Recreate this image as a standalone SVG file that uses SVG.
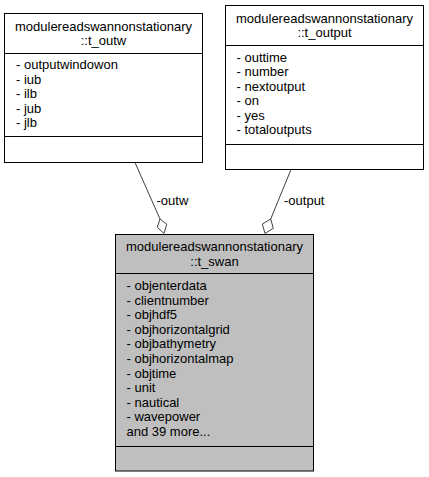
<svg xmlns="http://www.w3.org/2000/svg" width="429" height="477" viewBox="0 0 429 477">
  <style>
    text { font-family: "Liberation Sans", Arial, sans-serif; font-size: 13px; fill: #000; }
    .title { text-anchor: middle; }
    .box { fill: #fff; stroke: #000; stroke-width: 1; }
    .box.main { fill: #bfbfbf; }
    .sep { stroke: #000; stroke-width: 1; }
    .edge { fill: none; stroke: #404040; stroke-width: 1; }
    .diamond { fill: #fff; stroke: #404040; stroke-width: 1; }
  </style>
  <rect width="429" height="477" fill="#fff"/>

  <g id="connectors">
    <g id="edge-outw">
      <path class="edge" d="M135,162.5 L160,219"/>
      <polygon class="diamond" points="160,219 166.7,224.3 164,233.5 157.3,227.3"/>
      <text x="156.5" y="205">-outw</text>
    </g>
    <g id="edge-output">
      <path class="edge" d="M291,169.5 L270.7,219"/>
      <polygon class="diamond" points="270.7,219 273.3,228.3 265,233.5 262.3,224"/>
      <text x="284" y="205">-output</text>
    </g>
  </g>

  <g id="node-t_outw">
    <rect class="box" x="4.5" y="13.5" width="198" height="149"/>
    <line class="sep" x1="4.5" y1="53.5" x2="202.5" y2="53.5"/>
    <line class="sep" x1="4.5" y1="136.5" x2="202.5" y2="136.5"/>
    <text class="title" x="103.5" y="30.5">modulereadswannonstationary</text>
    <text class="title" x="103.5" y="45">::t_outw</text>
    <text x="16" y="69">- outputwindowon</text>
    <text x="16" y="83.5">- iub</text>
    <text x="16" y="98">- ilb</text>
    <text x="16" y="112.5">- jub</text>
    <text x="16" y="127">- jlb</text>
  </g>

  <g id="node-t_output">
    <rect class="box" x="225.5" y="5.5" width="198" height="164"/>
    <line class="sep" x1="225.5" y1="45.5" x2="423.5" y2="45.5"/>
    <line class="sep" x1="225.5" y1="144.5" x2="423.5" y2="144.5"/>
    <text class="title" x="324.5" y="22.5">modulereadswannonstationary</text>
    <text class="title" x="324.5" y="37">::t_output</text>
    <text x="236.5" y="61.5">- outtime</text>
    <text x="236.5" y="76">- number</text>
    <text x="236.5" y="90.5">- nextoutput</text>
    <text x="236.5" y="105">- on</text>
    <text x="236.5" y="119.5">- yes</text>
    <text x="236.5" y="134">- totaloutputs</text>
  </g>

  <g id="node-t_swan">
    <rect class="box main" x="115.5" y="234.5" width="198" height="236.5"/>
    <line class="sep" x1="115.5" y1="273.5" x2="313.5" y2="273.5"/>
    <line class="sep" x1="115.5" y1="446.5" x2="313.5" y2="446.5"/>
    <text class="title" x="214.5" y="250.5">modulereadswannonstationary</text>
    <text class="title" x="214.5" y="265.5">::t_swan</text>
    <text x="126.5" y="290">- objenterdata</text>
    <text x="126.5" y="304.6">- clientnumber</text>
    <text x="126.5" y="319.2">- objhdf5</text>
    <text x="126.5" y="333.8">- objhorizontalgrid</text>
    <text x="126.5" y="348.4">- objbathymetry</text>
    <text x="126.5" y="363">- objhorizontalmap</text>
    <text x="126.5" y="377.6">- objtime</text>
    <text x="126.5" y="392.2">- unit</text>
    <text x="126.5" y="406.8">- nautical</text>
    <text x="126.5" y="421.4">- wavepower</text>
    <text x="126.5" y="436">and 39 more...</text>
  </g>
</svg>
